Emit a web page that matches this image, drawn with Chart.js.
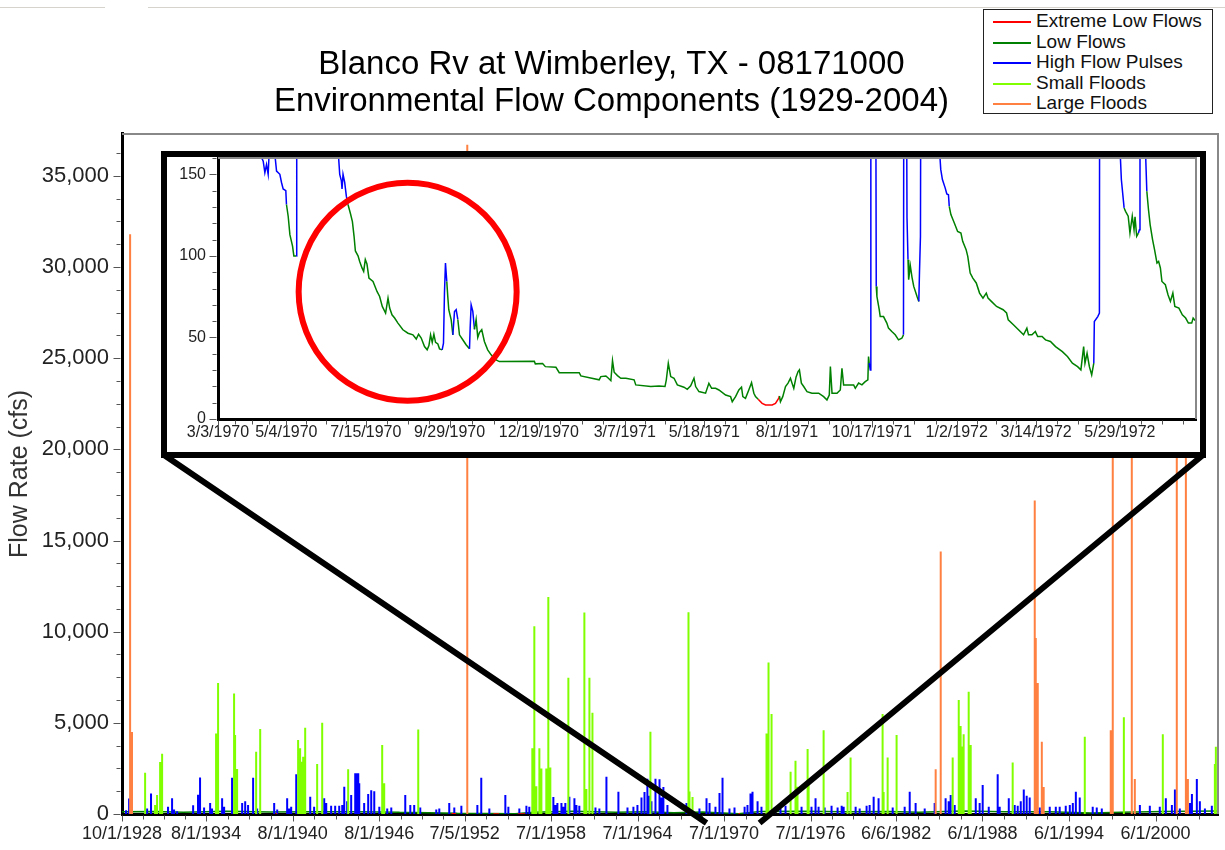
<!DOCTYPE html>
<html>
<head>
<meta charset="utf-8">
<script src="https://cdn.jsdelivr.net/npm/chart.js@4.4.1/dist/chart.umd.min.js"></script>
<style>
  html, body { margin: 0; padding: 0; background: #fff; }
  #wrap { position: relative; width: 1225px; height: 850px; overflow: hidden; font-family: 'Liberation Sans', Arial, sans-serif; }
  #main { position: absolute; left: 0; top: 0; }
  .topline { position: absolute; top: 7px; height: 1px; background: #d6d3cc; }
  #insetBox { position: absolute; left: 161px; top: 151px; width: 1033px; height: 295px; border: 6px solid #000; background: #fff; }
  #inset { display: block; }
  #legend { position: absolute; left: 983px; top: 9px; width: 230px; height: 105px; box-sizing: border-box;
            border: 1.5px solid #222; background: #fff; padding-top: 1px; font-size: 19px; color: #111; }
  #legend .row { height: 20.6px; line-height: 20.6px; white-space: nowrap; }
  #legend .swatch { display: inline-block; width: 38px; height: 2px; margin: 0 5px 0 9px; vertical-align: middle; }
</style>
</head>
<body>
<div id="wrap">
  <div class="topline" style="left:0;width:105px"></div>
  <div class="topline" style="left:148px;width:1077px"></div>
  <canvas id="main" width="1225" height="850"></canvas>
  <div id="insetBox"><canvas id="inset" width="1033" height="295"></canvas></div>
  <div id="legend"></div>
</div>
<script>
// main chart: decimal years and cfs
const titleLines = ['Blanco Rv at Wimberley, TX - 08171000', 'Environmental Flow Components (1929-2004)']
const mainTickLabels = ['10/1/1928', '8/1/1934', '8/1/1940', '8/1/1946', '7/5/1952', '7/1/1958', '7/1/1964',
  '7/1/1970', '7/1/1976', '6/6/1982', '6/1/1988', '6/1/1994', '6/1/2000']
const mainStart = '10/1/1928'
const mainEnd = '10/1/2004'
const mainYTicks = [0, 5000, 10000, 15000, 20000, 25000, 30000, 35000]
const mainYMax = 37300

const extremeFrom = [1939.40, 1951.60, 1954.50, 1956.20, 1971.50]
const extremeTo = [1939.50, 1951.90, 1954.90, 1956.70, 1971.60]
const extremeFlow = [10, 8, 5, 3, 9]

const lowYears = [1928.75, 1931, 1933, 1936, 1939, 1942, 1945, 1948, 1950, 1952, 1954, 1956, 1957.3, 1960, 1963,
  1965, 1967, 1969, 1971.5, 1973, 1976, 1979, 1982, 1984, 1987, 1990, 1993, 1996, 1998, 2001, 2004.75]
const lowFlow = [120, 140, 100, 150, 110, 120, 130, 90, 70, 40, 30, 20, 100, 150, 90,
  130, 70, 110, 20, 140, 150, 120, 140, 90, 160, 130, 120, 60, 100, 140, 160]

const pulseYears = [
  1929.03, 1929.24, 1930.49, 1930.76, 1931.94, 1932.22, 1932.57, 1933.68, 1934.02, 1934.16,
  1934.86, 1935.69, 1936.38, 1937.08, 1937.29, 1937.49, 1937.84, 1939.30, 1940.20, 1940.48,
  1940.83, 1941.80, 1942.77, 1942.91, 1943.25, 1943.53, 1943.81, 1944.16, 1944.64, 1944.92,
  1945.06, 1945.13, 1945.20, 1945.82, 1946.03, 1946.24, 1946.59, 1947.42, 1948.39, 1948.74,
  1949.01, 1950.75, 1951.44, 1951.79, 1952.28, 1953.39, 1953.66, 1955.33, 1956.30, 1956.79,
  1956.99, 1958.66, 1958.94, 1959.22, 1959.49, 1959.77, 1960.12, 1960.46, 1961.85, 1962.34,
  1963.17, 1963.80, 1964.21, 1964.77, 1964.98, 1965.18, 1965.32, 1965.74, 1966.02, 1966.29,
  1966.57, 1967.89, 1968.79, 1969.28, 1969.49, 1969.90, 1970.18, 1970.39, 1971.22, 1971.92,
  1972.33, 1972.47, 1972.82, 1973.09, 1974.00, 1974.76, 1975.87, 1976.84, 1977.05, 1977.47,
  1977.95, 1978.65, 1978.79, 1979.62, 1979.90, 1980.38, 1980.87, 1981.21, 1982.19, 1983.37,
  1983.78, 1984.41, 1985.10, 1985.86, 1986.07, 1986.21, 1987.95, 1988.43, 1988.85, 1989.47,
  1989.61, 1990.24, 1990.86, 1991.28, 1991.48, 1991.69, 1992.39, 1993.08, 1993.50, 1993.77,
  1994.19, 1994.89, 1995.16, 1996.06, 1996.69, 1999.33, 2000.02, 2001.13, 2001.76, 2002.10,
  2002.94, 2003.28, 2003.49, 2004.32,
  1932.36, 1934.44, 1934.99, 1935.83, 1938.12, 1939.51, 1940.34, 1942.07, 1944.02, 1944.36,
  1945.54, 1947.14, 1949.43, 1950.54, 1954.22, 1955.54, 1958.80, 1959.35, 1960.26, 1961.58,
  1964.49, 1965.46, 1966.16, 1970.87, 1972.12, 1974.41, 1976.56, 1978.37, 1980.59, 1983.02,
  1986.49, 1988.22, 1990.65, 1991.07, 1994.47, 1994.68, 1996.34, 2000.71, 2001.55, 2002.80,
  2003.84]
const pulseFlow = [
  200, 850, 300, 1130, 400, 870, 150, 480, 1050, 2000,
  600, 860, 1990, 600, 700, 500, 1990, 600, 860, 400,
  2175, 950, 860, 600, 450, 450, 450, 1500, 1040, 2230,
  2230, 2230, 1680, 1100, 1300, 1250, 400, 350, 1040, 500,
  500, 300, 600, 350, 450, 500, 1990, 1040, 300, 450,
  400, 930, 600, 600, 600, 950, 860, 450, 300, 2045,
  1220, 350, 400, 900, 1200, 1940, 1000, 1940, 1900, 1480,
  500, 600, 300, 860, 600, 400, 1150, 1990, 350, 400,
  1130, 1220, 700, 400, 350, 450, 400, 860, 400, 350,
  450, 450, 400, 400, 300, 450, 950, 860, 350, 1220,
  600, 300, 600, 860, 700, 1040, 860, 1590, 400, 2175,
  400, 860, 450, 1350, 1000, 900, 350, 400, 400, 400,
  450, 1220, 900, 400, 300, 500, 450, 860, 1350, 300,
  1100, 1920, 700, 450,
  250, 350, 300, 400, 300, 250, 300, 400, 500, 700,
  600, 300, 350, 250, 300, 400, 500, 400, 500, 350,
  500, 700, 900, 300, 500, 300, 400, 350, 500, 400,
  500, 600, 500, 700, 500, 600, 350, 400, 500, 600,
  300]

const smallYears = [
  1930.35, 1931.04, 1931.18, 1931.39, 1931.53, 1935.27, 1935.41, 1936.52, 1936.59, 1936.73,
  1938.05, 1938.33, 1940.96, 1941.10, 1941.24, 1941.31, 1941.45, 1942.28, 1942.63, 1944.43,
  1946.79, 1946.93, 1949.29, 1957.20, 1957.34, 1957.48, 1957.69, 1957.83, 1958.17, 1958.31,
  1958.45, 1959.70, 1960.81, 1960.95, 1961.16, 1961.37, 1965.39, 1968.03, 1968.10, 1968.31,
  1973.44, 1973.58, 1973.79, 1975.11, 1975.45, 1975.59, 1976.29, 1976.36, 1977.40, 1979.06,
  1979.27, 1981.49, 1981.56, 1981.84, 1982.46, 1986.35, 1986.77, 1986.90, 1986.97, 1987.11,
  1987.46, 1987.60, 1990.51, 1995.51, 1998.22, 2000.92, 2004.53, 2004.60]
const smallFlow = [
  2265, 500, 1040, 2850, 3300, 4420, 7180, 6610, 4330, 2470,
  3420, 4660, 4060, 3600, 2870, 3140, 4730, 2740, 5010, 2450,
  3780, 1680, 4640, 3600, 10300, 1520, 3600, 2500, 2500, 11900,
  2550, 7470, 11050, 1370, 7470, 5550, 4510, 11060, 1240, 930,
  4420, 8310, 5480, 2320, 2920, 1500, 3560, 1600, 4600, 1200,
  3100, 5480, 1200, 3100, 4330, 3100, 6250, 4820, 3700, 4370,
  6700, 3780, 2830, 4240, 5300, 4370, 2740, 3690]

const largeYears = [1929.31, 1929.44, 1952.69, 1985.17, 1985.52, 1992.04, 1992.11, 1992.25, 1992.53,
  1992.66, 1997.31, 1997.45, 1998.77, 1998.98, 2001.89, 2002.52, 2002.66]
const largeFlow = [31800, 4500, 36700, 2450, 14400, 17200, 9650, 7180, 3960,
  1480, 4600, 28000, 26000, 1920, 30000, 27000, 1920]

// inset: days after 3/3/1970, cfs
const insetStart = '3/3/1970'
const insetEnd = '8/6/1972'
const insetTickLabels = ['3/3/1970', '5/4/1970', '7/15/1970', '9/29/1970', '12/19/1970', '3/7/1971',
  '5/18/1971', '8/1/1971', '10/17/1971', '1/2/1972', '3/14/1972', '5/29/1972']
const insetYTicks = [0, 50, 100, 150]
const insetYMax = 160

const insetDay = [
  0, 30, 41, 42.5, 44, 45.5, 46.5, 49, 51.6, 53.1,
  56.1, 57.6, 59.1, 61.5, 62.1, 63.7, 65.2, 67.6, 68.8, 71.2,
  71.4, 90, 108.9, 110.4, 111.9, 112.5, 113.4, 114.9, 116.4, 117.9,
  120.1, 121.9, 123.4, 124.6, 127, 128.5, 130.6, 132.1, 133.6, 135.1,
  136.9, 140.6, 144.2, 146.6, 149, 152, 154.2, 155.7, 157.8, 160.2,
  163.2, 167.7, 172.3, 176.8, 179.8, 181.9, 184.3, 187.3, 189.7, 191.3,
  192.8, 194.3, 195.8, 197.3, 199.4, 200.9, 203.3, 204.5, 205.4, 206.3,
  207.5, 208.4, 209.3, 211.5, 213, 214.5, 216, 217.5, 219, 222,
  225, 228.1, 228.7, 229.6, 231.1, 232.6, 234.1, 235.6, 237.1, 239.2,
  241.6, 244.6, 247.7, 252.2, 255.2, 286.9, 287.8, 294.4, 296.9, 306.5,
  309.5, 327.6, 329.1, 345.7, 347.2, 351.8, 354.1, 356.3, 357.8, 359.3,
  362.3, 365.3, 369.9, 377.4, 378.9, 392.5, 400, 405.4, 406.6, 408.4,
  410.6, 413.6, 416.6, 422.6, 425.6, 428.7, 431.7, 433.2, 436.2, 442.2,
  445.2, 447.7, 451.3, 454.3, 460.4, 464.9, 466.4, 469.4, 472.4, 474.8,
  476, 478.4, 481.4, 483.9, 486, 487.5, 489.9, 493.5, 496.6, 502.6,
  505.6, 508.6, 509.2, 510.1, 512.2, 514.7, 517, 519.2, 520.6, 522.2,
  524.3, 526.1, 527.3, 529.1, 531.2, 534.2, 538.7, 544.8, 549.3, 552.3,
  554.4, 555.4, 556.9, 561.4, 564.4, 565.9, 567.4, 571.9, 576.5, 578,
  581, 584, 587, 589.4, 590, 590.6, 591.6, 592.1, 596.1, 597,
  597.6, 599.7, 600.6, 603.6, 606.6, 608.1, 611.1, 614.2, 617.2, 620.2,
  621.7, 622.4, 623.9, 624.9, 625.8, 626.4, 627.9, 629.4, 631, 634,
  635.6, 636.2, 637.1, 638.6, 650, 653.9, 655.5, 657, 659.5, 661,
  662.5, 663.2, 664.7, 667.8, 670.8, 673.8, 675.4, 678.5, 680, 682.2,
  684.6, 687.7, 690.7, 693.8, 696.8, 698.4, 701.4, 706.1, 712.1, 715.2,
  716.7, 721.4, 726, 730.6, 733.6, 735.1, 738.2, 741.3, 743.4, 747.4,
  750.5, 755, 759.6, 765.8, 770.4, 774.9, 779.6, 782.6, 785.1, 786.3,
  788.2, 790.3, 792.4, 794.3, 794.8, 797.9, 799.4, 800, 815, 817.8,
  819.3, 821.8, 823.1, 825.5, 827.1, 829.2, 830.8, 831.7, 833.2, 834.8,
  835.7, 836.2, 839.3, 841.5, 842.4, 843.9, 845.4, 847.6, 849.4, 851.6,
  853.1, 854.7, 856.1, 859.2, 861.6, 863.8, 866, 867.8, 871.5, 874.6,
  877.6, 880.1, 883.1, 884.4, 886.2]
const insetFlow = [
  240, 175, 158, 151, 156, 150, 165, 190, 162, 152,
  150, 145, 141, 140, 131.5, 124, 113, 106, 100, 100,
  400, 300, 165, 150, 146, 141, 150, 145, 136.6, 131.5,
  126, 121, 112, 103, 100, 96.6, 92.6, 90.5, 97.7, 95,
  86.4, 84.3, 78.2, 75.1, 69, 64.9, 74.1, 68, 63.9, 61.9,
  58.8, 54.7, 52.6, 51.6, 49, 52, 49.6, 44.4, 42.4, 45,
  51.6, 47, 52, 47, 46, 43, 42.4, 46.5, 77.2, 95.6,
  84.3, 75, 67, 60.8, 51.6, 65.9, 67, 61, 51.6, 48.6,
  45.5, 43, 55.7, 70, 66, 55, 61, 50, 53, 54.7,
  47.5, 42.4, 39.3, 36.2, 35.2, 35.4, 33.8, 34, 32.1, 31.7,
  28.4, 28.4, 26.4, 24, 26, 26.4, 25, 23.5, 35.8, 28.7,
  26.6, 25, 25, 24, 20.9, 19.9, 20.3, 19.9, 24, 34.2,
  26, 25, 20.9, 19.5, 18.2, 20.3, 25, 19.9, 16.8, 15.8,
  21.9, 18.8, 18.8, 17.8, 14.7, 13.7, 10.6, 13.7, 17.8, 19.5,
  13.7, 12.7, 17.8, 22.3, 15.8, 13.7, 12.1, 9.6, 8.6, 8.6,
  9.6, 12.7, 14.1, 10.6, 13.7, 19.9, 22, 25, 22, 18.8,
  25.8, 29.1, 30.1, 22, 19.9, 16.8, 15.8, 15.8, 13.7, 11.7,
  14.7, 32.1, 15.8, 15.8, 17.8, 31.1, 20.9, 20.9, 20.9, 18.8,
  22, 20.9, 22.9, 24, 38.3, 34.2, 30, 500, 350, 81.3,
  75.1, 67, 62.8, 62.8, 58.8, 55.7, 53.6, 51.6, 48.5, 49.5,
  51.6, 450, 300, 123.3, 97.7, 85.4, 94, 87, 81.3, 75.1,
  72.1, 89.5, 112, 600, 400, 170, 153, 146.8, 141.7, 138,
  137.5, 130.4, 125.3, 120.2, 115, 114, 108.9, 103.8, 99.7, 89.5,
  86.4, 83.4, 77.2, 74.1, 77.2, 74.1, 72.1, 69, 67, 65,
  60.8, 57.8, 54.7, 51.6, 55.7, 51.6, 51.6, 53.6, 50.6, 50.6,
  48.5, 47.5, 44.4, 41.3, 38.3, 34.2, 32.1, 30.1, 44.4, 34.2,
  40.3, 32.1, 27, 34.2, 59.8, 62.8, 65, 500, 300, 170,
  146.8, 129.4, 127.3, 124.3, 114, 124.3, 116, 124, 112, 114,
  116, 300, 250, 158, 139.6, 128.4, 119.2, 110, 103.8, 95.6,
  96.6, 92.6, 84.3, 82.3, 76.2, 72.1, 77.2, 69, 68, 63.9,
  61.9, 58.8, 58.8, 61.9, 60.4]
// day ranges drawn as high flow pulses / extreme low flows in the inset
const insetPulseFrom = [0, 71.4, 204.5, 214.5, 228.7, 591.6, 622.4, 636.2, 794.8, 835.7]
const insetPulseTo = [62.1, 117.9, 207.5, 217.5, 232.6, 597.0, 625.8, 663.2, 821.8, 842.4]
const insetExtremeFrom = [493.5]
const insetExtremeTo = [509.2]

// annotation: where the zoom lines meet the main axis, and the red circle
const zoomLineEnds = [1969.28, 1972.96]
const circleDay = 172
const circleFlow = 78

const colors = {
    extreme: '#ff0000',
    low: '#008000',
    pulse: '#0000ff',
    small: '#80ff00',
    large: '#ff8040'
}

Chart.defaults.font.family = "'Liberation Sans', Arial, sans-serif"
Chart.defaults.color = '#222'

function parseDate(s) {
    const [m, d, y] = s.split('/').map(Number)
    return { m, d, y }
}

function toYear(s) {
    const { m, d, y } = parseDate(s)
    const t0 = Date.UTC(y, 0, 1)
    return y + (Date.UTC(y, m - 1, d) - t0) / (Date.UTC(y + 1, 0, 1) - t0)
}

function toInsetDay(s) {
    const a = parseDate(s), b = parseDate(insetStart)
    return (Date.UTC(a.y, a.m - 1, a.d) - Date.UTC(b.y, b.m - 1, b.d)) / 86400000
}

function spikes(years, flows) {
    const pts = []
    years.forEach((t, i) => {
        pts.push({ x: t - 0.002, y: 0 }, { x: t, y: flows[i] }, { x: t + 0.002, y: 0 }, { x: t + 0.002, y: null })
    })
    return pts
}

function spans(from, to, flows) {
    const pts = []
    from.forEach((t, i) => {
        pts.push({ x: t, y: flows[i] }, { x: to[i], y: flows[i] }, { x: to[i], y: null })
    })
    return pts
}

function minorBetween(majors, parts, max) {
    const out = []
    for (let i = 0; i < majors.length - 1; i++) {
        const step = (majors[i + 1] - majors[i]) / parts
        for (let k = 1; k < parts; k++) out.push(majors[i] + k * step)
    }
    const last = majors[majors.length - 1]
    const step = (last - majors[majors.length - 2]) / parts
    for (let v = last + step; v <= max + 1e-9; v += step) out.push(v)
    return out
}

function drawTickMarks(chart, id, values, len) {
    const s = chart.scales[id], ctx = chart.ctx, a = chart.chartArea
    ctx.save()
    ctx.strokeStyle = '#555'
    ctx.lineWidth = 1
    ctx.beginPath()
    values.forEach(v => {
        if (s.isHorizontal()) {
            const x = Math.round(s.getPixelForValue(v)) + 0.5
            ctx.moveTo(x, a.bottom + 1.5)
            ctx.lineTo(x, a.bottom + 1.5 + len)
        } else {
            const y = Math.round(s.getPixelForValue(v)) + 0.5
            ctx.moveTo(a.left - 1.5, y)
            ctx.lineTo(a.left - 1.5 - len, y)
        }
    })
    ctx.stroke()
    ctx.restore()
}

function drawPlotFrame(chart) {
    const ctx = chart.ctx, a = chart.chartArea
    ctx.save()
    ctx.strokeStyle = '#888'
    ctx.lineWidth = 2
    ctx.beginPath()
    ctx.moveTo(a.left, a.top)
    ctx.lineTo(a.right, a.top)
    ctx.lineTo(a.right, a.bottom)
    ctx.stroke()
    ctx.restore()
}

// keep Chart.js from reserving room for half-labels at the plot edges
function fixSize(prop, size) {
    return s => {
        s[prop] = size
        s.paddingTop = 0
        s.paddingBottom = 0
    }
}

const mainXTicks = mainTickLabels.map(toYear)
const mainXMin = toYear(mainStart)
const mainXMax = toYear(mainEnd)
const insetXTicks = insetTickLabels.map(toInsetDay)
const insetXMax = toInsetDay(insetEnd)

const mainDecor = {
    id: 'mainDecor',
    afterDraw(chart) {
        const ctx = chart.ctx, a = chart.chartArea
        drawPlotFrame(chart)
        drawTickMarks(chart, 'x', mainXTicks, 6)
        drawTickMarks(chart, 'x', minorBetween(mainXTicks, 4, mainXMax), 4)
        drawTickMarks(chart, 'y', mainYTicks, 7)
        drawTickMarks(chart, 'y', minorBetween(mainYTicks, 4, mainYMax), 4)

        // lines from the inset frame down to the zoomed period
        const box = document.getElementById('insetBox')
        const left = box.offsetLeft, right = left + box.offsetWidth
        const bottom = box.offsetTop + box.offsetHeight
        const xs = chart.scales.x
        ctx.save()
        ctx.strokeStyle = '#000'
        ctx.lineWidth = 6
        ctx.beginPath()
        ctx.moveTo(left + 3, bottom - 3)
        ctx.lineTo(xs.getPixelForValue(zoomLineEnds[0]), a.bottom + 9)
        ctx.moveTo(right - 3, bottom - 3)
        ctx.lineTo(xs.getPixelForValue(zoomLineEnds[1]), a.bottom + 9)
        ctx.stroke()
        ctx.restore()
    }
}

const mainChart = new Chart(document.getElementById('main'), {
    type: 'line',
    data: {
        datasets: [
            { label: 'Extreme Low Flows', data: spans(extremeFrom, extremeTo, extremeFlow), borderColor: colors.extreme, order: 1 },
            { label: 'Low Flows', data: lowYears.map((t, i) => ({ x: t, y: lowFlow[i] })), borderColor: colors.low, order: 4 },
            { label: 'High Flow Pulses', data: spikes(pulseYears, pulseFlow), borderColor: colors.pulse, borderWidth: 2, order: 3 },
            { label: 'Small Floods', data: spikes(smallYears, smallFlow), borderColor: colors.small, borderWidth: 2, order: 2 },
            { label: 'Large Floods', data: spikes(largeYears, largeFlow), borderColor: colors.large, borderWidth: 2, order: 1 }
        ]
    },
    options: {
        responsive: false,
        animation: false,
        devicePixelRatio: 1,
        events: [],
        elements: {
            line: { borderWidth: 1.5, tension: 0, borderJoinStyle: 'bevel' },
            point: { radius: 0 }
        },
        layout: { padding: { left: 5, right: 7, top: 46, bottom: 0 } },
        plugins: {
            legend: { display: false },
            tooltip: { enabled: false },
            title: {
                display: true,
                text: titleLines,
                color: '#000',
                font: { size: 33, weight: 'normal', lineHeight: 1.12 },
                padding: { top: 0, bottom: 14 }
            }
        },
        scales: {
            x: {
                type: 'linear',
                min: mainXMin,
                max: mainXMax,
                afterBuildTicks: s => { s.ticks = mainXTicks.map(v => ({ value: v })) },
                afterFit: s => { s.height = 36 },
                ticks: {
                    autoSkip: false,
                    maxRotation: 0,
                    padding: 9,
                    font: { size: 18 },
                    callback: (v, i) => mainTickLabels[i]
                },
                grid: { display: false, drawTicks: false },
                border: { color: '#000', width: 3 }
            },
            y: {
                min: 0,
                max: mainYMax,
                afterBuildTicks: s => { s.ticks = mainYTicks.map(v => ({ value: v })) },
                afterFit: fixSize('width', 117),
                ticks: {
                    padding: 13,
                    font: { size: 22 },
                    callback: v => v.toLocaleString('en-US')
                },
                grid: { display: false, drawTicks: false },
                border: { color: '#000', width: 3 },
                title: { display: true, text: 'Flow Rate (cfs)', color: '#333', font: { size: 25 }, padding: 0 }
            }
        }
    },
    plugins: [mainDecor]
})

function insetColor(day) {
    if (insetPulseFrom.some((f, i) => day >= f && day <= insetPulseTo[i])) return colors.pulse
    if (insetExtremeFrom.some((f, i) => day >= f && day <= insetExtremeTo[i])) return colors.extreme
    return colors.low
}

const insetDecor = {
    id: 'insetDecor',
    afterDraw(chart) {
        const ctx = chart.ctx
        drawPlotFrame(chart)
        drawTickMarks(chart, 'x', insetXTicks, 7)
        drawTickMarks(chart, 'x', minorBetween(insetXTicks, 4, insetXMax), 4)
        drawTickMarks(chart, 'y', insetYTicks, 7)
        drawTickMarks(chart, 'y', minorBetween(insetYTicks, 5, insetYMax), 4)

        ctx.save()
        ctx.strokeStyle = '#ff0000'
        ctx.lineWidth = 6
        ctx.beginPath()
        ctx.arc(chart.scales.x.getPixelForValue(circleDay), chart.scales.y.getPixelForValue(circleFlow), 109, 0, Math.PI * 2)
        ctx.stroke()
        ctx.restore()
    }
}

new Chart(document.getElementById('inset'), {
    type: 'line',
    data: {
        datasets: [{
            label: 'Daily flow',
            data: insetDay.map((d, i) => ({ x: d, y: insetFlow[i] })),
            borderColor: colors.low,
            borderWidth: 1.5,
            pointRadius: 0,
            tension: 0,
            segment: { borderColor: c => insetColor(insetDay[c.p1DataIndex]) }
        }]
    },
    options: {
        responsive: false,
        animation: false,
        devicePixelRatio: 1,
        events: [],
        layout: { padding: { left: 0, right: 4, top: 1, bottom: 0 } },
        plugins: { legend: { display: false }, tooltip: { enabled: false } },
        scales: {
            x: {
                type: 'linear',
                min: 0,
                max: insetXMax,
                afterBuildTicks: s => { s.ticks = insetXTicks.map(v => ({ value: v })) },
                afterFit: s => { s.height = 33 },
                ticks: {
                    autoSkip: false,
                    maxRotation: 0,
                    padding: 4,
                    font: { size: 16 },
                    callback: (v, i) => insetTickLabels[i]
                },
                grid: { display: false, drawTicks: false },
                border: { color: '#000', width: 3 }
            },
            y: {
                min: 0,
                max: insetYMax,
                afterBuildTicks: s => { s.ticks = insetYTicks.map(v => ({ value: v })) },
                afterFit: fixSize('width', 51),
                ticks: { padding: 12, font: { size: 16 } },
                grid: { display: false, drawTicks: false },
                border: { color: '#000', width: 3 }
            }
        }
    },
    plugins: [insetDecor]
})

// legend box built from the main chart's datasets
const legendBox = document.getElementById('legend')
mainChart.data.datasets.forEach(ds => {
    const row = document.createElement('div')
    row.className = 'row'
    const sw = document.createElement('span')
    sw.className = 'swatch'
    sw.style.background = ds.borderColor
    const txt = document.createElement('span')
    txt.textContent = ds.label
    row.appendChild(sw)
    row.appendChild(txt)
    legendBox.appendChild(row)
})
</script>
</body>
</html>
